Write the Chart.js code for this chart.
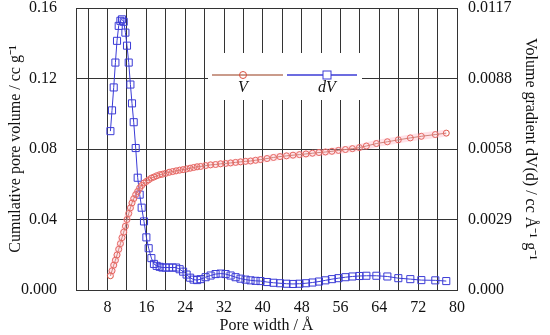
<!DOCTYPE html>
<html>
<head>
<meta charset="utf-8">
<script src="https://cdn.jsdelivr.net/npm/chart.js@4"></script>
<style>
  html, body { margin: 0; padding: 0; background: #fff; }
  #wrap { width: 550px; height: 335px; }
</style>
</head>
<body>
<div id="wrap"><canvas id="poreChart" width="550" height="335"></canvas></div>
<script>
// pore width (Å) shared by both curves
const poreWidth = [8.59, 8.92, 9.27, 9.62, 9.95, 10.30, 10.65, 10.98, 11.33, 11.68,
  12.01, 12.36, 12.71, 13.04, 13.39, 13.80, 14.21, 14.62, 15.03, 15.51,
  16.00, 16.47, 17.03, 17.56, 18.12, 18.74, 19.29, 19.97, 20.69, 21.41,
  22.13, 22.85, 23.57, 24.29, 25.01, 25.73, 26.45, 27.17, 28.20, 29.23,
  30.26, 31.29, 32.32, 33.35, 34.38, 35.40, 36.43, 37.46, 38.49, 39.52,
  40.86, 42.19, 43.53, 44.87, 46.21, 47.54, 48.88, 50.22, 51.56, 52.89,
  54.23, 55.57, 57.01, 58.45, 59.89, 61.33, 63.39, 65.65, 67.91, 70.38,
  72.65, 75.53, 77.79];

// V : cumulative pore volume (cc/g), left axis
const cumVolume = [0.0081, 0.0109, 0.0141, 0.0169, 0.0199, 0.0231, 0.0263, 0.0297, 0.0328, 0.0362,
  0.0400, 0.0434, 0.0466, 0.0494, 0.0518, 0.0541, 0.0559, 0.0579, 0.0593, 0.0607,
  0.0616, 0.0625, 0.0635, 0.0641, 0.0648, 0.0654, 0.0657, 0.0662, 0.0668, 0.0672,
  0.0676, 0.0680, 0.0683, 0.0687, 0.0691, 0.0695, 0.0699, 0.0701, 0.0706, 0.0710,
  0.0712, 0.0716, 0.0718, 0.0721, 0.0724, 0.0727, 0.0730, 0.0732, 0.0736, 0.0740,
  0.0746, 0.0752, 0.0757, 0.0761, 0.0765, 0.0768, 0.0772, 0.0776, 0.0780, 0.0783,
  0.0787, 0.0792, 0.0797, 0.0802, 0.0808, 0.0817, 0.0831, 0.0841, 0.0852, 0.0863,
  0.0872, 0.0882, 0.0890];

// dV : volume gradient (cc/Å/g), right axis
const volGradient = [0.00658, 0.00744, 0.00839, 0.00942, 0.01032, 0.01094, 0.01115, 0.01121, 0.01111, 0.01066,
  0.01012, 0.00942, 0.00851, 0.00773, 0.00695, 0.00588, 0.00465, 0.00395, 0.00341, 0.00284,
  0.00218, 0.00173, 0.00132, 0.00108, 0.00100, 0.00096, 0.00093, 0.00093, 0.00093, 0.00093,
  0.00093, 0.00086, 0.00076, 0.00064, 0.00051, 0.00043, 0.00041, 0.00045, 0.00053, 0.00060,
  0.00066, 0.00068, 0.00066, 0.00060, 0.00053, 0.00047, 0.00043, 0.00040, 0.00038, 0.00037,
  0.00033, 0.00030, 0.00028, 0.00026, 0.00025, 0.00026, 0.00028, 0.00031, 0.00035, 0.00040,
  0.00045, 0.00049, 0.00053, 0.00056, 0.00058, 0.00059, 0.00059, 0.00056, 0.00049, 0.00045,
  0.00041, 0.00040, 0.00037];

// axis ticks
const xGridTicks = [4, 8, 12, 16, 20, 24, 28, 32, 36, 40, 44, 48, 52, 56, 60, 64, 68, 72, 76, 80];
const leftTicks = [0, 0.04, 0.08, 0.12, 0.16];
const leftLabels = ['0.000', '0.04', '0.08', '0.12', '0.16'];
const rightTicks = [0, 0.00292, 0.00584, 0.00876, 0.01168];
const rightLabels = ['0.000', '0.0029', '0.0058', '0.0088', '0.0117'];

const serif = '"Liberation Serif", "Times New Roman", serif';
const gridCol = '#333';
const vLine = '#b87a64';
const vMark = '#d9503f';
const dvCol = '#3b3bd6';

const toXY = (ys) => poreWidth.map((x, i) => ({ x: x, y: ys[i] }));

// vertical axes: keep tick padding for label placement but not for layout
const noVPad = (w) => (s) => { s.width = w; s.paddingTop = 0; s.paddingBottom = 0; };

// legend drawn as in the original: white box over the grid
const legendBox = {
  id: 'legendBox',
  afterDraw(chart) {
    const ctx = chart.ctx;
    ctx.save();
    ctx.fillStyle = '#fff';
    ctx.fillRect(208, 53, 154, 47);

    ctx.lineWidth = 1.5;
    ctx.strokeStyle = vLine;
    ctx.beginPath(); ctx.moveTo(212, 75); ctx.lineTo(283, 75); ctx.stroke();
    ctx.lineWidth = 1;
    ctx.strokeStyle = vMark;
    ctx.beginPath(); ctx.arc(243, 75, 3.5, 0, Math.PI * 2); ctx.stroke();

    ctx.lineWidth = 1.5;
    ctx.strokeStyle = dvCol;
    ctx.beginPath(); ctx.moveTo(287, 75); ctx.lineTo(357, 75); ctx.stroke();
    ctx.lineWidth = 1;
    ctx.fillStyle = '#fff';
    ctx.fillRect(323, 71, 8, 8);
    ctx.strokeRect(323, 71, 8, 8);

    ctx.fillStyle = '#111';
    ctx.font = 'italic 16px ' + serif;
    ctx.textAlign = 'center';
    ctx.textBaseline = 'middle';
    ctx.fillText('V', 243, 88);
    ctx.fillText('dV', 327, 88);
    ctx.restore();
  }
};

new Chart(document.getElementById('poreChart'), {
  type: 'line',
  data: {
    datasets: [
      {
        // soft pink halo under V as in the picture
        data: toXY(cumVolume),
        yAxisID: 'y',
        borderColor: 'rgba(255,160,180,0.30)',
        borderWidth: 7,
        pointRadius: 0,
        tension: 0
      },
      {
        label: 'V',
        data: toXY(cumVolume),
        yAxisID: 'y',
        borderColor: vLine,
        borderWidth: 1,
        pointStyle: 'circle',
        pointRadius: 3,
        pointBorderColor: vMark,
        pointBackgroundColor: 'rgba(255,255,255,0)',
        pointBorderWidth: 1,
        tension: 0
      },
      {
        label: 'dV',
        data: toXY(volGradient),
        yAxisID: 'y1',
        borderColor: dvCol,
        borderWidth: 1,
        pointStyle: 'rect',
        pointRadius: 5,
        pointBorderColor: dvCol,
        pointBackgroundColor: 'rgba(255,255,255,0)',
        pointBorderWidth: 1,
        tension: 0
      }
    ]
  },
  options: {
    responsive: false,
    animation: false,
    layout: { padding: { top: 8, left: 0, right: 0, bottom: 0 } },
    plugins: {
      legend: { display: false },
      tooltip: { enabled: false }
    },
    scales: {
      x: {
        type: 'linear',
        min: 1.5,
        max: 80,
        afterBuildTicks: (s) => { s.ticks = xGridTicks.map(v => ({ value: v })); },
        afterFit: (s) => { s.height = 45; },
        grid: { color: gridCol, lineWidth: 1, drawTicks: false },
        border: { display: false },
        ticks: {
          padding: 8,
          color: '#111',
          font: { family: serif, size: 16 },
          maxRotation: 0,
          autoSkip: false,
          callback: (v) => (v % 8 === 0 ? String(v) : '')
        },
        title: {
          display: true,
          text: 'Pore width / Å',
          color: '#111',
          font: { family: serif, size: 16 },
          padding: { top: 0, bottom: 0 }
        }
      },
      y: {
        position: 'left',
        min: 0,
        max: 0.16,
        afterBuildTicks: (s) => { s.ticks = leftTicks.map(v => ({ value: v })); },
        afterFit: noVPad(76),
        grid: { color: gridCol, lineWidth: 1, drawTicks: false },
        border: { display: true, color: gridCol },
        ticks: {
          padding: 19,
          color: '#111',
          font: { family: serif, size: 16 },
          callback: (v) => leftLabels[leftTicks.indexOf(v)]
        },
        title: {
          display: true,
          text: 'Cumulative pore volume / cc g⁻¹',
          color: '#111',
          font: { family: serif, size: 16 },
          padding: { top: 6, bottom: 0 }
        }
      },
      y1: {
        position: 'right',
        min: 0,
        max: 0.01168,
        afterBuildTicks: (s) => { s.ticks = rightTicks.map(v => ({ value: v })); },
        afterFit: noVPad(93),
        grid: { drawOnChartArea: false, drawTicks: false },
        border: { display: true, color: gridCol },
        ticks: {
          padding: 11,
          color: '#111',
          font: { family: serif, size: 16 },
          callback: (v) => rightLabels[rightTicks.indexOf(v)]
        },
        title: {
          display: true,
          text: 'Volume gradient dV(d) / cc Å⁻¹ g⁻¹',
          color: '#111',
          font: { family: serif, size: 16 },
          padding: { top: 10, bottom: 0 }
        }
      }
    }
  },
  plugins: [legendBox]
});
</script>
</body>
</html>
